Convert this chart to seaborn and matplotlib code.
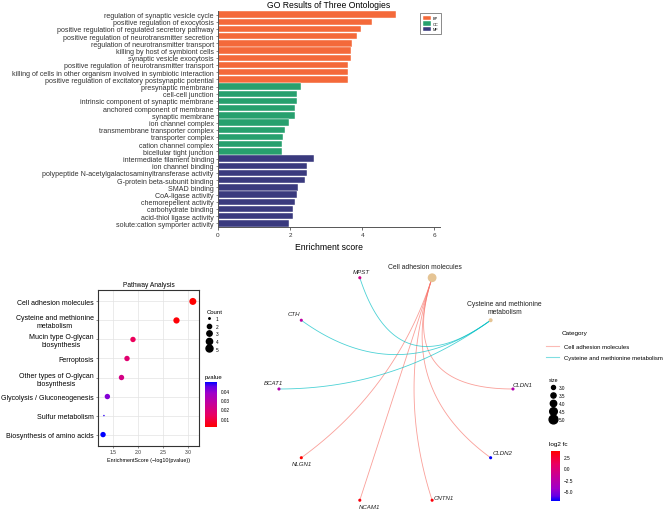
import numpy as np
import pandas as pd
import seaborn as sns
import matplotlib
matplotlib.use("Agg")
from matplotlib import pyplot as plt
from matplotlib.colors import LinearSegmentedColormap, Normalize
from matplotlib.cm import ScalarMappable
from matplotlib.lines import Line2D

# ---- GO enrichment (top panel)
bp_terms = ["regulation of synaptic vesicle cycle", "positive regulation of exocytosis",
            "positive regulation of regulated secretory pathway",
            "positive regulation of neurotransmitter secretion",
            "regulation of neurotransmitter transport", "killing by host of symbiont cells",
            "synaptic vesicle exocytosis", "positive regulation of neurotransmitter transport",
            "killing of cells in other organism involved in symbiotic interaction",
            "positive regulation of excitatory postsynaptic potential"]
bp_scores = [4.94, 4.28, 3.96, 3.86, 3.71, 3.69, 3.69, 3.60, 3.60, 3.60]
cc_terms = ["presynaptic membrane", "cell-cell junction", "intrinsic component of synaptic membrane",
            "anchored component of membrane", "synaptic membrane", "ion channel complex",
            "transmembrane transporter complex", "transporter complex", "cation channel complex",
            "bicellular tight junction"]
cc_scores = [2.30, 2.20, 2.20, 2.15, 2.13, 1.98, 1.85, 1.80, 1.77, 1.77]
mf_terms = ["intermediate filament binding", "ion channel binding",
            "polypeptide N-acetylgalactosaminyltransferase activity", "G-protein beta-subunit binding",
            "SMAD binding", "CoA-ligase activity", "chemorepellent activity", "carbohydrate binding",
            "acid-thiol ligase activity", "solute:cation symporter activity"]
mf_scores = [2.67, 2.47, 2.46, 2.42, 2.22, 2.19, 2.13, 2.08, 2.07, 1.97]
go_colors = {"BP": "#F4693A", "CC": "#27A06E", "MF": "#3A3A7E"}

# ---- KEGG pathway dot plot
pathways = ["Cell adhesion molecules", "Cysteine and methionine\nmetabolism",
            "Mucin type O-glycan\nbiosynthesis", "Ferroptosis",
            "Other types of O-glycan\nbiosynthesis", "Glycolysis / Gluconeogenesis",
            "Sulfur metabolism", "Biosynthesis of amino acids"]
pathway_pvalue = [0.0008, 0.0017, 0.0126, 0.0166, 0.0214, 0.041, 0.048, 0.050]
pathway_count = [5, 4, 3, 3, 3, 3, 1, 3]

# ---- cnet plot
cnet_categories = ["Cell adhesion molecules", "Cysteine and methionine metabolism"]
cnet_category_size = [5, 3]
cnet_genes = ["CLDN1", "CLDN2", "CNTN1", "NCAM1", "NLGN1", "BCAT1", "CTH", "MPST"]
cnet_gene_fc = [-3.2, -7.3, 3.6, 3.5, 3.9, -3.0, -2.4, -1.0]
cnet_gene_category = [0, 0, 0, 0, 0, 1, 1, 1]

plt.rcParams['font.family'] = ['Liberation Sans', 'DejaVu Sans']
plt.rcParams['axes.unicode_minus'] = True

W, H = 669, 510
fig = plt.figure(figsize=(W / 100, H / 100), dpi=100)


def px_axes(x0, y0, x1, y1):
    return fig.add_axes([x0 / W, 1 - y1 / H, (x1 - x0) / W, (y1 - y0) / H])


cmap = LinearSegmentedColormap.from_list(
    "rb", [(0, "#FF0000"), (0.25, "#EB005F"), (0.5, "#C80096"), (0.75, "#A000C8"),
           (0.9, "#6400E6"), (1, "#0000FF")])
dark = "#333333"

# ================= GO bars
go = pd.DataFrame({
    "term": bp_terms + cc_terms + mf_terms,
    "score": bp_scores + cc_scores + mf_scores,
    "ont": ["BP"] * len(bp_terms) + ["CC"] * len(cc_terms) + ["MF"] * len(mf_terms),
})
ax = px_axes(218, 12, 440, 228)
sns.barplot(data=go, x="score", y="term", hue="ont", palette=go_colors, dodge=False,
            width=0.88, edgecolor="white", linewidth=0.3, saturation=1, ax=ax)
ax.set_xlim(0, 6.16)
ax.set_xticks([0, 2, 4, 6])
ax.set_xlabel("Enrichment score", fontsize=6.2, labelpad=4)
ax.set_ylabel("")
ax.set_title("GO Results of Three Ontologies", fontsize=6.2, pad=3)
ax.tick_params(axis="y", labelsize=5.1, length=1.5, width=0.4, pad=1.5, colors=dark)
ax.tick_params(axis="x", labelsize=4.6, length=2, width=0.5, pad=1.5, colors=dark)
for s in ["top", "right"]:
    ax.spines[s].set_visible(False)
for s in ["left", "bottom"]:
    ax.spines[s].set_color("#555555")
    ax.spines[s].set_linewidth(0.7)
leg = ax.legend(loc="upper left", bbox_to_anchor=(0.90, 1.0), fontsize=2.8, title=None,
                handlelength=2.0, handleheight=1.3, labelspacing=0.25, handletextpad=0.5,
                borderpad=0.8, frameon=True, fancybox=False)
leg.get_frame().set_edgecolor("#555555")
leg.get_frame().set_linewidth(0.6)

# ================= Pathway dot plot
pw = pd.DataFrame({"pathway": pathways, "pvalue": pathway_pvalue, "count": pathway_count})
pw["score"] = -np.log10(pw["pvalue"])
pw = pw.iloc[::-1]


def count_diam(v):
    return 1.5 + 5.5 * np.sqrt((v - 1) / 4.0)


count_sizes = {c: (count_diam(c) * 0.72) ** 2 for c in range(1, 6)}
ax2 = px_axes(98, 291, 199, 447)
pnorm = Normalize(min(pathway_pvalue), max(pathway_pvalue))
sns.scatterplot(data=pw, x="score", y="pathway", hue="pvalue", palette=cmap, hue_norm=pnorm,
                size="count", sizes=count_sizes, legend=False, edgecolor="none", ax=ax2, zorder=3)
ax2.set_xlim(1.2, 3.22)
ax2.set_ylim(-0.6, 7.6)
ax2.set_xticks([1.5, 2.0, 2.5, 3.0])
ax2.set_xticklabels(["1.5", "2.0", "2.5", "3.0"])
ax2.grid(True, color="#e3e3e3", lw=0.5)
ax2.set_axisbelow(True)
ax2.set_xlabel("EnrichmentScore (\u2212log10(pvalue))", fontsize=3.9, labelpad=1.5)
ax2.set_ylabel("")
ax2.set_title("Pathway Analysis", fontsize=4.75, pad=3)
ax2.tick_params(axis="y", labelsize=5.0, length=1.5, width=0.4, pad=1.5, colors=dark)
ax2.tick_params(axis="x", labelsize=3.6, length=1.5, width=0.4, pad=1, colors=dark)
for lbl in ax2.get_yticklabels():
    lbl.set_multialignment("center")
    lbl.set_color("black")
for s in ax2.spines.values():
    s.set_color(dark)
    s.set_linewidth(0.8)

fig.text(207 / W, 1 - 312 / H, "Count", fontsize=4.3, va="center")
count_handles = [Line2D([], [], marker="o", ls="", color="black", ms=count_diam(c) * 0.72)
                 for c in range(1, 6)]
fig.legend(count_handles, [str(c) for c in range(1, 6)], loc="upper left",
           bbox_to_anchor=(206 / W, 1 - 317 / H), frameon=False, fontsize=3.4,
           handlelength=1.4, handleheight=1.4, labelspacing=0.45, handletextpad=0.6,
           borderpad=0, borderaxespad=0)
fig.text(205 / W, 1 - 378 / H, "pvalue", fontsize=4.3, va="center")
cax = px_axes(205, 383, 217, 428)
cb = fig.colorbar(ScalarMappable(norm=pnorm, cmap=cmap), cax=cax)
cb.set_ticks([0.01, 0.02, 0.03, 0.04])
cb.ax.tick_params(labelsize=3.4, length=1.5, width=0.4, color="white", pad=1.5)
cb.outline.set_visible(False)

# ================= cnet plot
fc_cmap = cmap.reversed()
ax3 = px_axes(260, 255, 540, 510)
labels = cnet_categories + cnet_genes
ang = np.deg2rad(72 - 36 * np.arange(len(labels)))
nx, ny = np.cos(ang), np.sin(ang)
edge_colors = ["#F8766D", "#00BFC4"]
t = np.linspace(0, 1, 80)[:, None]
for gi, ci in enumerate(cnet_gene_category):
    p0 = np.array([nx[ci], ny[ci]])
    p2 = np.array([nx[gi + 2], ny[gi + 2]])
    ctrl = np.array([0.0, 0.0])
    pts = (1 - t) ** 2 * p0 + 2 * (1 - t) * t * ctrl + t ** 2 * p2
    ax3.plot(pts[:, 0], pts[:, 1], color=edge_colors[ci], lw=0.6, alpha=0.7, zorder=1)

fcnorm = Normalize(min(cnet_gene_fc), max(cnet_gene_fc))


def cat_diam(v):
    return 4 + 2.4 * (v - 3)


ax3.scatter(nx[:2], ny[:2], s=[(cat_diam(v) * 0.72) ** 2 for v in cnet_category_size],
            color="#E5C494", zorder=3, edgecolor="none")
gdf = pd.DataFrame({"x": nx[2:], "y": ny[2:], "fc": cnet_gene_fc})
sns.scatterplot(data=gdf, x="x", y="y", hue="fc", palette=fc_cmap, hue_norm=fcnorm, s=5,
                edgecolor="none", legend=False, ax=ax3, zorder=3)
ax3.set_xlim(-1.162, 1.231)
ax3.set_ylim(-1.026, 1.154)
ax3.axis("off")

# label offsets in pixels (dx right, dy up)
label_offsets = {
    "Cell adhesion molecules": (-7, 11), "Cysteine and methionine metabolism": (14, 12.5),
    "MPST": (2, 6), "CTH": (-7, 7), "BCAT1": (-6, 6), "CLDN1": (10, 4), "CLDN2": (12, 5),
    "NLGN1": (1, -5.5), "NCAM1": (10, -6), "CNTN1": (12, 3),
}
for i, name in enumerate(labels):
    dx, dy = label_offsets[name]
    txt = "Cysteine and methionine\nmetabolism" if i == 1 else name
    ax3.annotate(txt, (nx[i], ny[i]), xytext=(dx * 0.72, dy * 0.72), textcoords="offset points",
                 ha="center", va="center", multialignment="center",
                 fontsize=4.9 if i < 2 else 4.4, style="normal" if i < 2 else "italic",
                 color="#222222")

fig.text(562 / W, 1 - 333 / H, "Category", fontsize=4.6, va="center")
cat_handles = [Line2D([], [], color=c, lw=0.8, alpha=0.5) for c in edge_colors]
fig.legend(cat_handles, cnet_categories, loc="upper left", bbox_to_anchor=(546 / W, 1 - 345 / H),
           frameon=False, fontsize=4.3, handlelength=2.2, handletextpad=0.8, labelspacing=0.9,
           borderpad=0, borderaxespad=0)
fig.text(549 / W, 1 - 381 / H, "size", fontsize=3.8, va="center")
size_levels = [3.0, 3.5, 4.0, 4.5, 5.0]
size_handles = [Line2D([], [], marker="o", ls="", color="black", ms=cat_diam(v) * 0.72)
                for v in size_levels]
fig.legend(size_handles, [f"{v:.1f}" for v in size_levels], loc="upper left",
           bbox_to_anchor=(550 / W, 1 - 386 / H), frameon=False, fontsize=3.3,
           handlelength=1.4, handleheight=1.6, labelspacing=0.45, handletextpad=0.6,
           borderpad=0, borderaxespad=0)
fig.text(549 / W, 1 - 445 / H, "log2 fc", fontsize=4.6, va="center")
cax2 = px_axes(551, 452, 560, 502)
cb2 = fig.colorbar(ScalarMappable(norm=fcnorm, cmap=fc_cmap), cax=cax2)
cb2.set_ticks([2.5, 0.0, -2.5, -5.0])
cb2.set_ticklabels(["2.5", "0.0", "\u22122.5", "\u22125.0"])
cb2.ax.tick_params(labelsize=3.4, length=1.5, width=0.4, color="white", pad=1.5)
cb2.outline.set_visible(False)

fig.savefig("out.png", dpi=100)
